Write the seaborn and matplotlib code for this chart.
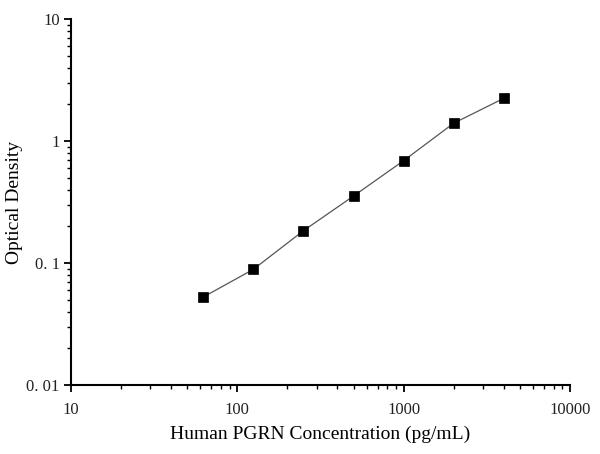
import matplotlib
matplotlib.use("Agg")
import matplotlib.pyplot as plt
import seaborn as sns
import pandas as pd
from matplotlib.ticker import FixedLocator, FixedFormatter, LogLocator, NullFormatter

concentration = [62.5, 125, 250, 500, 1000, 2000, 4000]
optical_density = [0.0526, 0.0887, 0.184, 0.354, 0.690, 1.40, 2.24]
x_ticks = [10, 100, 1000, 10000]
x_labels = ["10", "100", "1000", "10000"]
y_ticks = [0.01, 0.1, 1, 10]
y_labels = ["0. 01", "0. 1", "1", "10"]

sns.set_theme(style="ticks")
plt.rcParams["font.family"] = ["Liberation Serif", "DejaVu Serif"]

df = pd.DataFrame({"x": concentration, "y": optical_density})

fig = plt.figure(figsize=(6, 4.54), dpi=100)
ax = fig.add_axes([0.118, 0.152, 0.832, 0.806])
sns.lineplot(data=df, x="x", y="y", ax=ax, color="#555555", linewidth=0.9,
             marker="s", markersize=6.5, markerfacecolor="black",
             markeredgecolor="black", markeredgewidth=0.5)
ax.set_xscale("log")
ax.set_yscale("log")
ax.set_xlim(10, 10000)
ax.set_ylim(0.01, 10)
ax.xaxis.set_major_locator(FixedLocator(x_ticks))
ax.xaxis.set_major_formatter(FixedFormatter(x_labels))
ax.yaxis.set_major_locator(FixedLocator(y_ticks))
ax.yaxis.set_major_formatter(FixedFormatter(y_labels))
ax.xaxis.set_minor_locator(LogLocator(base=10, subs=range(2, 10), numticks=20))
ax.yaxis.set_minor_locator(LogLocator(base=10, subs=range(2, 10), numticks=20))
ax.xaxis.set_minor_formatter(NullFormatter())
ax.yaxis.set_minor_formatter(NullFormatter())

for s in ["top", "right"]:
    ax.spines[s].set_visible(False)
for s in ["left", "bottom"]:
    ax.spines[s].set_linewidth(1.5)
    ax.spines[s].set_color("black")

ax.tick_params(which="major", direction="out", length=5, width=1.3, colors="black",
               labelsize=12, labelcolor="#222222", pad=3)
ax.tick_params(axis="x", which="major", pad=7)
ax.tick_params(which="minor", direction="out", length=3, width=1.0, colors="black")

ax.set_xlabel("Human PGRN Concentration (pg/mL)", fontsize=14, labelpad=6, color="black")
ax.set_ylabel("Optical Density", fontsize=14, color="black")
ax.yaxis.set_label_coords(-0.095, 0.5)

fig.savefig("out.png", dpi=100)
